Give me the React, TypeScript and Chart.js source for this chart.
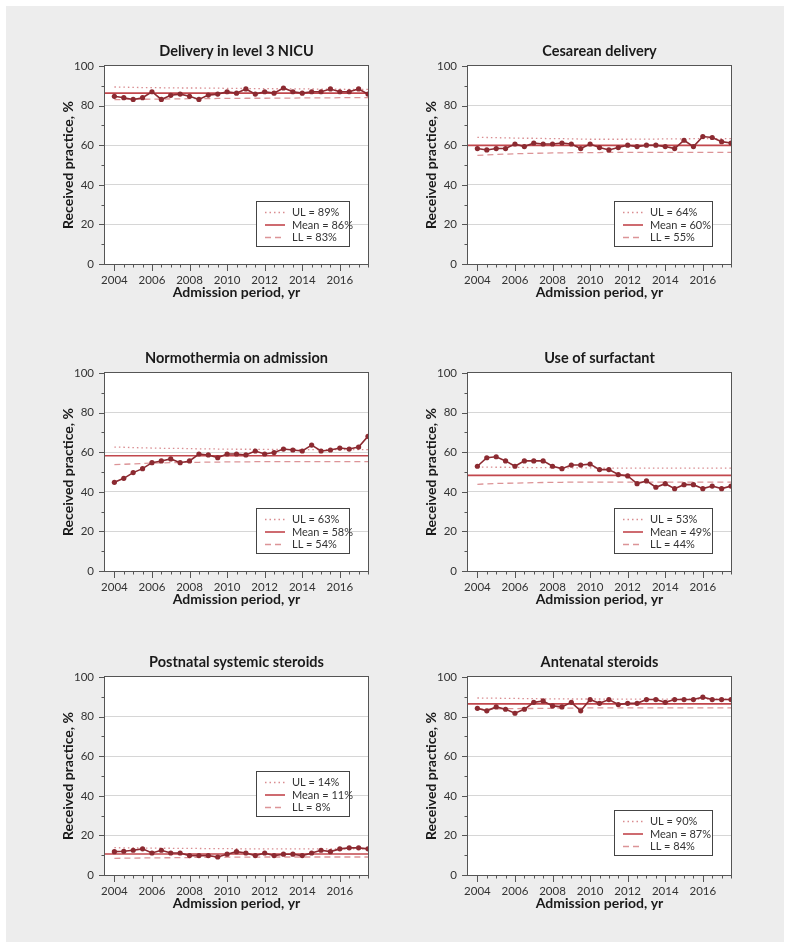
import React, { useEffect, useRef } from "react";
import { Chart, registerables } from "chart.js";

Chart.register(...registerables);

const FONT = "Lato, 'Open Sans', sans-serif";

const periods = [
  2004, 2004.5, 2005, 2005.5, 2006, 2006.5, 2007, 2007.5, 2008, 2008.5, 2009, 2009.5, 2010, 2010.5,
  2011, 2011.5, 2012, 2012.5, 2013, 2013.5, 2014, 2014.5, 2015, 2015.5, 2016, 2016.5, 2017, 2017.5,
];
const yearTicks = [2004, 2006, 2008, 2010, 2012, 2014, 2016];
const xMin = 2003.5;
const xMax = 2017.5;

const nicuValues = [84.7, 84.0, 83.1, 84.0, 87.0, 83.1, 85.2, 85.8, 84.7, 83.1, 85.3, 85.8, 87.0, 86.3, 88.4, 85.8, 87.0, 86.3, 88.9, 87.0, 86.3, 87.0, 87.0, 88.4, 87.0, 87.0, 88.4, 85.8];
const nicuUL = [89.4, 89.3, 89.2, 89.1, 89.1, 89.0, 89.0, 88.9, 88.9, 88.9, 88.8, 88.8, 88.7, 88.7, 88.6, 88.6, 88.6, 88.5, 88.5, 88.4, 88.4, 88.4, 88.3, 88.3, 88.3, 88.2, 88.2, 88.2];
const nicuLL = [83.0, 83.1, 83.2, 83.2, 83.3, 83.3, 83.4, 83.4, 83.5, 83.5, 83.5, 83.6, 83.6, 83.6, 83.7, 83.7, 83.7, 83.8, 83.8, 83.8, 83.9, 83.9, 83.9, 83.9, 84.0, 84.0, 84.0, 84.0];
const nicuMean = 86.3;
const nicuLegend = ["UL = 89%", "Mean = 86%", "LL = 83%"];

const cesValues = [58.3, 57.6, 58.3, 58.3, 60.6, 59.3, 61.1, 60.6, 60.6, 61.1, 60.6, 58.3, 60.6, 58.8, 57.6, 58.8, 60.0, 59.3, 60.0, 60.0, 59.3, 58.3, 62.5, 59.3, 64.4, 63.9, 61.8, 61.1];
const cesUL = [64.0, 63.9, 63.8, 63.7, 63.6, 63.5, 63.5, 63.4, 63.3, 63.3, 63.2, 63.1, 63.0, 63.0, 63.0, 63.0, 63.0, 63.1, 63.1, 63.1, 63.2, 63.2, 63.2, 63.3, 63.3, 63.3, 63.3, 63.3];
const cesLL = [54.9, 55.1, 55.3, 55.5, 55.7, 55.8, 55.9, 56.0, 56.1, 56.1, 56.2, 56.2, 56.3, 56.3, 56.4, 56.4, 56.4, 56.4, 56.4, 56.4, 56.4, 56.4, 56.4, 56.4, 56.4, 56.4, 56.4, 56.4];
const cesMean = 59.9;
const cesLegend = ["UL = 64%", "Mean = 60%", "LL = 55%"];

const normoValues = [44.8, 46.8, 49.7, 51.7, 54.7, 55.6, 56.6, 54.7, 55.6, 59.1, 58.6, 57.2, 59.1, 59.1, 58.6, 60.6, 59.1, 59.8, 61.6, 61.1, 60.6, 63.6, 60.6, 61.1, 62.1, 61.6, 62.6, 68.0];
const normoUL = [62.6, 62.5, 62.3, 62.2, 62.1, 62.0, 61.9, 61.9, 61.8, 61.7, 61.7, 61.6, 61.6, 61.5, 61.5, 61.5, 61.4, 61.4, 61.4, 61.4, 61.3, 61.3, 61.3, 61.3, 61.3, 61.3, 61.3, 61.3];
const normoLL = [53.7, 53.9, 54.1, 54.3, 54.5, 54.6, 54.7, 54.8, 54.9, 54.9, 55.0, 55.0, 55.1, 55.1, 55.1, 55.2, 55.2, 55.2, 55.2, 55.2, 55.2, 55.2, 55.2, 55.2, 55.2, 55.2, 55.2, 55.2];
const normoMean = 58.2;
const normoLegend = ["UL = 63%", "Mean = 58%", "LL = 54%"];

const surfValues = [52.9, 57.2, 57.7, 55.6, 52.9, 55.6, 55.6, 55.6, 52.9, 51.7, 53.5, 53.5, 54.0, 51.2, 51.2, 48.7, 48.0, 44.1, 45.5, 42.3, 44.1, 41.6, 43.6, 43.6, 41.6, 42.9, 41.6, 42.9];
const surfUL = [52.5, 52.5, 52.4, 52.4, 52.3, 52.3, 52.2, 52.2, 52.2, 52.1, 52.1, 52.1, 52.1, 52.0, 52.0, 52.0, 52.0, 52.0, 52.0, 52.0, 52.0, 52.0, 52.0, 52.0, 52.0, 52.0, 52.0, 52.0];
const surfLL = [43.8, 44.0, 44.2, 44.3, 44.4, 44.5, 44.6, 44.7, 44.8, 44.8, 44.9, 44.9, 44.9, 44.9, 44.9, 44.9, 44.9, 44.9, 44.9, 44.9, 44.9, 44.9, 44.9, 44.9, 44.9, 44.9, 44.9, 44.9];
const surfMean = 48.3;
const surfLegend = ["UL = 53%", "Mean = 49%", "LL = 44%"];

const postValues = [11.8, 12.0, 12.5, 13.2, 11.1, 12.5, 11.1, 11.1, 9.8, 9.8, 9.8, 9.1, 10.5, 11.8, 11.1, 9.8, 11.1, 9.8, 10.5, 10.5, 9.8, 11.1, 12.5, 11.8, 13.2, 13.7, 13.7, 13.2];
const postUL = [13.8, 13.7, 13.7, 13.6, 13.6, 13.5, 13.5, 13.4, 13.4, 13.4, 13.3, 13.3, 13.3, 13.3, 13.2, 13.2, 13.2, 13.2, 13.2, 13.2, 13.2, 13.2, 13.2, 13.2, 13.2, 13.2, 13.2, 13.2];
const postLL = [8.4, 8.5, 8.5, 8.6, 8.6, 8.7, 8.7, 8.8, 8.8, 8.9, 8.9, 8.9, 9.0, 9.0, 9.0, 9.0, 9.1, 9.1, 9.1, 9.1, 9.1, 9.1, 9.1, 9.1, 9.1, 9.1, 9.1, 9.1];
const postMean = 10.6;
const postLegend = ["UL = 14%", "Mean = 11%", "LL = 8%"];

const anteValues = [84.2, 82.9, 84.9, 83.7, 81.7, 83.7, 87.2, 87.9, 85.4, 84.9, 87.2, 82.9, 88.6, 86.7, 88.6, 86.1, 86.7, 86.7, 88.6, 88.6, 87.2, 88.6, 88.6, 88.6, 89.8, 88.6, 88.6, 88.6];
const anteUL = [89.4, 89.3, 89.3, 89.2, 89.2, 89.1, 89.1, 89.0, 89.0, 89.0, 88.9, 88.9, 88.9, 88.9, 88.8, 88.8, 88.8, 88.8, 88.8, 88.8, 88.8, 88.8, 88.8, 88.8, 88.8, 88.8, 88.8, 88.8];
const anteLL = [83.7, 83.8, 83.9, 84.0, 84.0, 84.1, 84.1, 84.2, 84.2, 84.3, 84.3, 84.3, 84.4, 84.4, 84.4, 84.4, 84.4, 84.4, 84.4, 84.4, 84.4, 84.4, 84.4, 84.4, 84.4, 84.4, 84.4, 84.4];
const anteMean = 86.4;
const anteLegend = ["UL = 90%", "Mean = 87%", "LL = 84%"];

const xTitle = "Admission period, yr";
const yTitle = "Received practice, %";

const C_DATA = "#8c2a31";
const C_MEAN = "#c2474d";
const C_UL = "#d98c90";
const C_LL = "#dc9497";

type PanelDef = {
  title: string;
  values: number[];
  ul: number[];
  ll: number[];
  mean: number;
  legend: string[];
  plotLeft: number;
  plotTop: number;
  legendTop: number;
  legendWidth: number;
};

const PLOT_W = 263;
const PLOT_H = 198;
const M_LEFT = 55;
const M_RIGHT = 55;
const M_TOP = 30;
const M_BOTTOM = 45;

const panels: PanelDef[] = [
  { title: "Delivery in level 3 NICU", values: nicuValues, ul: nicuUL, ll: nicuLL, mean: nicuMean, legend: nicuLegend, plotLeft: 105, plotTop: 66, legendTop: 135, legendWidth: 94 },
  { title: "Cesarean delivery", values: cesValues, ul: cesUL, ll: cesLL, mean: cesMean, legend: cesLegend, plotLeft: 468, plotTop: 66, legendTop: 135, legendWidth: 99 },
  { title: "Normothermia on admission", values: normoValues, ul: normoUL, ll: normoLL, mean: normoMean, legend: normoLegend, plotLeft: 105, plotTop: 373, legendTop: 135, legendWidth: 94 },
  { title: "Use of surfactant", values: surfValues, ul: surfUL, ll: surfLL, mean: surfMean, legend: surfLegend, plotLeft: 468, plotTop: 373, legendTop: 135, legendWidth: 99 },
  { title: "Postnatal systemic steroids", values: postValues, ul: postUL, ll: postLL, mean: postMean, legend: postLegend, plotLeft: 105, plotTop: 677, legendTop: 94, legendWidth: 94 },
  { title: "Antenatal steroids", values: anteValues, ul: anteUL, ll: anteLL, mean: anteMean, legend: anteLegend, plotLeft: 468, plotTop: 677, legendTop: 133, legendWidth: 99 },
];

function Panel({ def }: { def: PanelDef }) {
  const ref = useRef<HTMLCanvasElement | null>(null);
  useEffect(() => {
    const canvas = ref.current;
    if (!canvas) return;
    const decor = {
      id: "decor",
      beforeDraw(chart: any) {
        const { ctx, chartArea: a } = chart;
        ctx.save();
        ctx.fillStyle = "#ffffff";
        ctx.fillRect(a.left, a.top, a.right - a.left, a.bottom - a.top);
        ctx.restore();
      },
      afterDraw(chart: any) {
        const { ctx, chartArea: a } = chart;
        const xs = chart.scales.x;
        const ys = chart.scales.y;
        ctx.save();
        ctx.strokeStyle = "#555555";
        ctx.lineWidth = 1;
        ctx.strokeRect(Math.round(a.left) - 0.5, Math.round(a.top) - 0.5, Math.round(a.right - a.left) + 1, Math.round(a.bottom - a.top) + 1);
        ctx.beginPath();
        for (const p of periods) {
          const x = Math.round(xs.getPixelForValue(p)) + 0.5;
          const major = yearTicks.includes(p);
          ctx.moveTo(x, a.bottom);
          ctx.lineTo(x, a.bottom + (major ? 7 : 3.5));
        }
        for (let v = 0; v <= 100; v += 10) {
          const y = Math.round(ys.getPixelForValue(v)) + 0.5;
          const major = v % 20 === 0;
          ctx.moveTo(a.left, y);
          ctx.lineTo(a.left - (major ? 6 : 3.5), y);
        }
        ctx.stroke();

        const bw = def.legendWidth;
        const bh = 46;
        const bx = Math.round(a.right - 18 - bw);
        const by = Math.round(a.top + def.legendTop);
        ctx.fillStyle = "#ffffff";
        ctx.fillRect(bx, by, bw, bh);
        ctx.strokeStyle = "#444444";
        ctx.lineWidth = 1;
        ctx.strokeRect(bx + 0.5, by + 0.5, bw - 1, bh - 1);
        const rows = [
          { color: C_UL, dash: [1.5, 3], width: 1.3 },
          { color: C_MEAN, dash: [], width: 1.6 },
          { color: C_LL, dash: [6, 4], width: 1.3 },
        ];
        ctx.font = `11px ${FONT}`;
        ctx.textBaseline = "middle";
        ctx.textAlign = "left";
        rows.forEach((r, i) => {
          const y = by + 11.5 + i * 12.5;
          ctx.beginPath();
          ctx.setLineDash(r.dash);
          ctx.strokeStyle = r.color;
          ctx.lineWidth = r.width;
          ctx.moveTo(bx + 9, y);
          ctx.lineTo(bx + 29, y);
          ctx.stroke();
          ctx.setLineDash([]);
          ctx.fillStyle = "#333333";
          ctx.fillText(def.legend[i], bx + 36, y);
        });
        ctx.restore();
      },
    };

    const chart = new Chart(canvas, {
      type: "line",
      data: {
        datasets: [
          {
            data: periods.map((p, i) => ({ x: p, y: def.values[i] })),
            borderColor: C_DATA,
            backgroundColor: C_DATA,
            borderWidth: 1.6,
            pointRadius: 2.6,
            pointBackgroundColor: C_DATA,
            pointBorderWidth: 0,
            tension: 0,
          },
          {
            data: [
              { x: xMin, y: def.mean },
              { x: xMax, y: def.mean },
            ],
            borderColor: C_MEAN,
            borderWidth: 1.7,
            pointRadius: 0,
          },
          {
            data: periods.map((p, i) => ({ x: p, y: def.ul[i] })),
            borderColor: C_UL,
            borderWidth: 1.3,
            borderDash: [1.5, 3],
            pointRadius: 0,
          },
          {
            data: periods.map((p, i) => ({ x: p, y: def.ll[i] })),
            borderColor: C_LL,
            borderWidth: 1.3,
            borderDash: [6, 4],
            pointRadius: 0,
          },
        ],
      },
      options: {
        animation: false,
        responsive: false,
        devicePixelRatio: 1,
        layout: { padding: { left: 0, right: M_RIGHT, top: 0, bottom: 0 } },
        plugins: {
          legend: { display: false },
          tooltip: { enabled: false },
          title: {
            display: true,
            text: def.title,
            fullSize: false,
            color: "#1a1a1a",
            font: { family: FONT, size: 14.5, weight: "bold" },
            padding: { top: 6.5, bottom: 6.1 },
          },
        },
        scales: {
          x: {
            type: "linear",
            min: xMin,
            max: xMax,
            afterBuildTicks: (s: any) => {
              s.ticks = yearTicks.map((v) => ({ value: v }));
            },
            afterFit: (s: any) => {
              s.height = M_BOTTOM;
            },
            grid: { display: false, drawTicks: false },
            border: { display: false },
            ticks: {
              padding: 9,
              color: "#333333",
              font: { family: FONT, size: 11.5 },
              maxRotation: 0,
              autoSkip: false,
              callback: (v: any) => String(v),
            },
            title: {
              display: true,
              text: xTitle,
              color: "#1a1a1a",
              font: { family: FONT, size: 14, weight: "bold" },
              padding: { top: 0, bottom: 7.9 },
            },
          },
          y: {
            min: 0,
            max: 100,
            afterFit: (s: any) => {
              s.width = M_LEFT;
            },
            grid: {
              drawTicks: false,
              color: (c: any) => (c.tick && c.tick.value > 0 && c.tick.value < 100 ? "#d6d6d6" : "rgba(0,0,0,0)"),
              lineWidth: 1,
            },
            border: { display: false },
            ticks: {
              stepSize: 20,
              padding: 11,
              color: "#333333",
              font: { family: FONT, size: 11.5 },
            },
            title: {
              display: true,
              text: yTitle,
              color: "#1a1a1a",
              font: { family: FONT, size: 14, weight: "bold" },
              padding: { top: 9.6, bottom: 0 },
            },
          },
        },
      },
      plugins: [decor],
    } as any);
    return () => chart.destroy();
  }, [def]);

  return (
    <canvas
      ref={ref}
      width={PLOT_W + M_LEFT + M_RIGHT}
      height={PLOT_H + M_TOP + M_BOTTOM}
      style={{
        position: "absolute",
        left: def.plotLeft - M_LEFT,
        top: def.plotTop - M_TOP,
        width: PLOT_W + M_LEFT + M_RIGHT,
        height: PLOT_H + M_TOP + M_BOTTOM,
      }}
    />
  );
}

export default function App() {
  return (
    <div style={{ position: "absolute", left: 0, top: 0, width: 791, height: 949, background: "#ffffff", overflow: "hidden" }}>
      <div style={{ position: "absolute", left: 6, top: 6, width: 778, height: 936, background: "#ededed" }} />
      {panels.map((p) => (
        <Panel key={p.title} def={p} />
      ))}
    </div>
  );
}
